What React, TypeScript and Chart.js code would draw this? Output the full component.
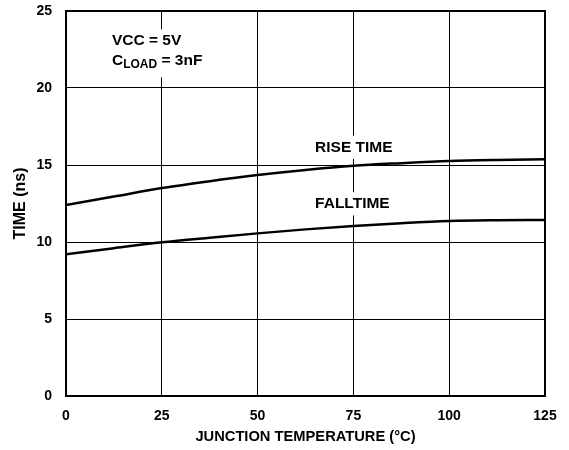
import React, { useEffect, useRef } from "react";
import { Chart, registerables } from "chart.js";

Chart.register(...registerables);

const temps = [0, 12.5, 25, 37.5, 50, 62.5, 75, 87.5, 100, 112.5, 125];
const riseTime = [12.4, 12.95, 13.5, 13.95, 14.35, 14.68, 14.95, 15.12, 15.26, 15.33, 15.37];
const fallTime = [9.2, 9.6, 9.98, 10.28, 10.56, 10.82, 11.04, 11.22, 11.36, 11.41, 11.43];
const xTicks = [0, 25, 50, 75, 100, 125];
const yTicks = [0, 5, 10, 15, 20, 25];

const FONT = "'Liberation Sans', Arial, sans-serif";

const labelPlugin = {
  id: "labels",
  beforeDatasetsDraw(chart: any) {
    const { ctx, scales } = chart;
    const x = scales.x;
    const y = scales.y;
    ctx.save();
    ctx.textBaseline = "middle";
    ctx.textAlign = "left";
    const draw = (text: string, dx: number, dy: number, size: number) => {
      ctx.font = `bold ${size}px ${FONT}`;
      const px = x.getPixelForValue(dx);
      const py = y.getPixelForValue(dy);
      const w = ctx.measureText(text).width;
      ctx.fillStyle = "#fff";
      ctx.fillRect(px - 3, py - size * 0.75, w + 6, size * 1.5);
      ctx.fillStyle = "#000";
      ctx.fillText(text, px, py);
    };
    draw("RISE TIME", 65, 16.15, 15.5);
    draw("FALLTIME", 65, 12.48, 15.5);
    // VCC block
    const px = x.getPixelForValue(12);
    const py1 = y.getPixelForValue(23.1);
    const py2 = y.getPixelForValue(21.8);
    ctx.fillStyle = "#fff";
    ctx.fillRect(px - 3, py1 - 11, 104, 48);
    ctx.fillStyle = "#000";
    ctx.font = `bold 15.5px ${FONT}`;
    ctx.fillText("VCC = 5V", px, py1);
    ctx.fillText("C", px, py2);
    let cx = px + ctx.measureText("C").width;
    ctx.font = `bold 12px ${FONT}`;
    ctx.fillText("LOAD", cx, py2 + 4);
    cx += ctx.measureText("LOAD").width;
    ctx.font = `bold 15.5px ${FONT}`;
    ctx.fillText(" = 3nF", cx, py2);
    ctx.restore();
  },
  afterDraw(chart: any) {
    const { ctx, chartArea } = chart;
    ctx.save();
    ctx.strokeStyle = "#000";
    ctx.lineWidth = 2;
    ctx.strokeRect(chartArea.left, chartArea.top, chartArea.right - chartArea.left, chartArea.bottom - chartArea.top);
    ctx.restore();
  },
};

export default function App() {
  const ref = useRef<HTMLCanvasElement>(null);
  useEffect(() => {
    const chart = new Chart(ref.current!, {
      type: "line",
      data: {
        datasets: [
          {
            label: "RISE TIME",
            data: temps.map((t, i) => ({ x: t, y: riseTime[i] })),
            borderColor: "#000",
            borderWidth: 2.5,
            pointRadius: 0,
            cubicInterpolationMode: "monotone",
          },
          {
            label: "FALLTIME",
            data: temps.map((t, i) => ({ x: t, y: fallTime[i] })),
            borderColor: "#000",
            borderWidth: 2.5,
            pointRadius: 0,
            cubicInterpolationMode: "monotone",
          },
        ],
      },
      options: {
        animation: false,
        responsive: false,
        layout: { padding: { top: 11, right: 24, left: 0, bottom: 0 } },
        plugins: { legend: { display: false }, tooltip: { enabled: false } },
        scales: {
          x: {
            type: "linear",
            min: 0,
            max: 125,
            afterBuildTicks: (s: any) => { s.ticks = xTicks.map((v) => ({ value: v })); },
            afterFit: (s: any) => { s.height = 54; s.paddingLeft = 0; s.paddingRight = 0; },
            grid: { color: "#000", lineWidth: 1, drawTicks: false },
            border: { display: false },
            ticks: { color: "#000", font: { family: FONT, size: 14, weight: "bold" }, padding: 12, maxRotation: 0 },
            title: { display: true, text: "JUNCTION TEMPERATURE (°C)", color: "#000", font: { family: FONT, size: 14.7, weight: "bold" }, padding: { top: 0, bottom: 4 } },
          },
          y: {
            type: "linear",
            min: 0,
            max: 25,
            afterBuildTicks: (s: any) => { s.ticks = yTicks.map((v) => ({ value: v })); },
            afterFit: (s: any) => { s.width = 66; s.paddingTop = 0; s.paddingBottom = 0; },
            grid: { color: "#000", lineWidth: 1, drawTicks: false },
            border: { display: false },
            ticks: { color: "#000", font: { family: FONT, size: 14, weight: "bold" }, padding: 14 },
            title: { display: true, text: "TIME (ns)", color: "#000", font: { family: FONT, size: 16, weight: "bold" }, padding: { top: 11, bottom: 0 } },
          },
        },
      } as any,
      plugins: [labelPlugin],
    });
    return () => chart.destroy();
  }, []);
  return (
    <div style={{ position: "absolute", left: 0, top: 0, width: 569, height: 450, background: "#fff" }}>
      <canvas ref={ref} width={569} height={450} />
    </div>
  );
}
